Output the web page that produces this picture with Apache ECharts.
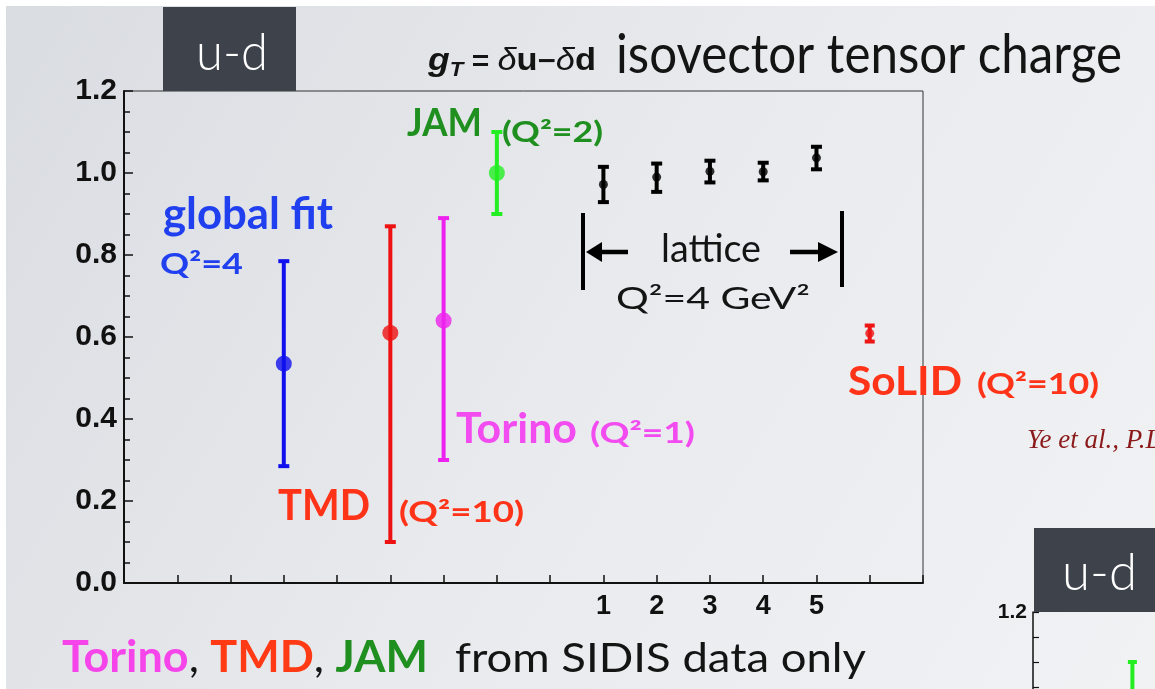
<!DOCTYPE html>
<html>
<head>
<meta charset="utf-8">
<script src="https://cdn.jsdelivr.net/npm/echarts@6/dist/echarts.min.js"></script>
<style>
  html, body { margin: 0; padding: 0; background: #ffffff; }
  #main { width: 1155px; height: 689px; }
</style>
</head>
<body>
<div id="main"></div>
<script>
// ---- data: isovector tensor charge g_T (u-d) ----
// extractions, placed at slots along the horizontal axis
const fitNames   = ['global fit', 'TMD', 'Torino', 'JAM'];
const fitSlots   = [3, 5, 6, 7];
const fitValues  = [0.535, 0.61, 0.64, 1.00];
const fitLow     = [0.285, 0.10, 0.30, 0.90];
const fitHigh    = [0.785, 0.87, 0.89, 1.10];
const fitColors  = ['#1010ee', '#ee1111', '#ee22ee', '#22ee22'];

// lattice results, Q^2 = 4 GeV^2
const latticeLabels = ['1', '2', '3', '4', '5'];
const latticeSlots  = [9, 10, 11, 12, 13];
const latticeValues = [0.972, 0.990, 1.004, 1.003, 1.037];
const latticeLow    = [0.929, 0.954, 0.977, 0.982, 1.009];
const latticeHigh   = [1.015, 1.023, 1.030, 1.025, 1.064];

// SoLID projection
const solidSlots  = [14];
const solidValues = [0.609];
const solidLow    = [0.589];
const solidHigh   = [0.628];

// ---- text helpers ----
const mctx = document.createElement('canvas').getContext('2d');
function midOffset(font) {
  mctx.font = font;
  mctx.textBaseline = 'alphabetic';
  const a = mctx.measureText('H').actualBoundingBoxAscent;
  mctx.textBaseline = 'middle';
  const m = mctx.measureText('H').actualBoundingBoxAscent;
  mctx.textBaseline = 'alphabetic';
  return a - m;
}
// a line of text runs placed at (left, baseline), stretched to a given width
function textLine(runs, left, baseline, width, z) {
  let total = 0;
  runs.forEach(r => { mctx.font = r.font; r.w = mctx.measureText(r.t).width; total += r.w; });
  let cx = 0;
  const children = runs.map(r => {
    const el = {
      type: 'text', x: cx, y: (r.dy || 0) - midOffset(r.font), z: z || 20,
      style: { text: r.t, font: r.font, fill: r.color,
               align: 'left', textAlign: 'left', verticalAlign: 'middle', textVerticalAlign: 'middle' }
    };
    cx += r.w;
    return el;
  });
  return { type: 'group', x: left, y: baseline, scaleX: width ? width / total : 1, children: children };
}
const LATO = 'Lato';
const f = (w, s, fam) => `${w} ${s}px ${fam || LATO}`;

// ---- error bar renderer ----
function errorBar(lineWidth, capWidth, color) {
  return function (params, api) {
    const x = api.value(0);
    const lo = api.coord([x, api.value(1)]);
    const hi = api.coord([x, api.value(2)]);
    const style = { stroke: color, lineWidth: lineWidth, fill: null };
    return {
      type: 'group',
      children: [
        { type: 'line', shape: { x1: lo[0], y1: lo[1], x2: hi[0], y2: hi[1] }, style: style },
        { type: 'line', shape: { x1: lo[0] - capWidth / 2, y1: lo[1], x2: lo[0] + capWidth / 2, y2: lo[1] }, style: style },
        { type: 'line', shape: { x1: hi[0] - capWidth / 2, y1: hi[1], x2: hi[0] + capWidth / 2, y2: hi[1] }, style: style }
      ]
    };
  };
}

const series = [];
fitNames.forEach((name, i) => {
  series.push({
    name: name + ' error', type: 'custom', xAxisIndex: 0, yAxisIndex: 0, z: 3,
    renderItem: errorBar(4, 11, fitColors[i]),
    data: [[fitSlots[i], fitLow[i], fitHigh[i]]]
  });
  series.push({
    name: name, type: 'scatter', xAxisIndex: 0, yAxisIndex: 0, z: 4,
    symbol: 'circle', symbolSize: 16, itemStyle: { color: fitColors[i] },
    data: [[fitSlots[i], fitValues[i]]]
  });
});
series.push({
  name: 'lattice error', type: 'custom', z: 3,
  renderItem: errorBar(4, 11, '#000000'),
  data: latticeSlots.map((s, i) => [s, latticeLow[i], latticeHigh[i]])
});
series.push({
  name: 'lattice', type: 'scatter', z: 4, symbolSize: 9, itemStyle: { color: '#000000' },
  data: latticeSlots.map((s, i) => [s, latticeValues[i]])
});
series.push({
  name: 'SoLID error', type: 'custom', z: 3,
  renderItem: errorBar(4, 10, '#ee1515'),
  data: solidSlots.map((s, i) => [s, solidLow[i], solidHigh[i]])
});
series.push({
  name: 'SoLID', type: 'scatter', z: 4, symbolSize: 9, itemStyle: { color: '#ee1515' },
  data: solidSlots.map((s, i) => [s, solidValues[i]])
});
// second u-d panel (partly visible): JAM
const jamIdx = fitNames.indexOf('JAM');
series.push({
  name: 'JAM panel 2 error', type: 'custom', xAxisIndex: 1, yAxisIndex: 1, z: 3,
  renderItem: errorBar(4, 9, fitColors[jamIdx]),
  data: [[fitSlots[jamIdx], fitLow[jamIdx], fitHigh[jamIdx]]]
});
series.push({
  name: 'JAM panel 2', type: 'scatter', xAxisIndex: 1, yAxisIndex: 1, z: 4,
  symbolSize: 16, itemStyle: { color: fitColors[jamIdx] },
  data: [[fitSlots[jamIdx], fitValues[jamIdx]]]
});

const BLUE_T = '#2040f0', RED_T = '#ff3318', MAG_T = '#f24cf0', GREEN_T = '#1f8f1f', INK = '#141414';
const LS = '"Liberation Sans"';

const graphics = [
  // white margin strips
  { type: 'rect', shape: { x: 0, y: 0, width: 1155, height: 6 }, style: { fill: '#ffffff' }, z: 1 },
  { type: 'rect', shape: { x: 0, y: 0, width: 6, height: 689 }, style: { fill: '#ffffff' }, z: 1 },
  // u-d tab
  { type: 'rect', shape: { x: 163, y: 7, width: 133, height: 84 }, style: { fill: '#3d424b' }, z: 15 },
  textLine([{ t: 'u-d', font: f(300, 52), color: '#ffffff' }], 196, 70, 72),
  // title
  textLine([
    { t: 'g', font: f('italic bold', 32, LS), color: INK },
    { t: 'T', font: f('italic bold', 20, LS), color: INK, dy: 6 },
    { t: ' = ', font: f('bold', 27, LS), color: INK },
    { t: 'δ', font: f('italic', 31, LS), color: INK },
    { t: 'u', font: f('bold', 31, LS), color: INK },
    { t: '−', font: f('bold', 28, LS), color: INK },
    { t: 'δ', font: f('italic', 31, LS), color: INK },
    { t: 'd', font: f('bold', 31, LS), color: INK }
  ], 428, 70, 168),
  textLine([{ t: 'isovector tensor charge', font: f(400, 55), color: INK }], 616, 73, 506),
  // labels in the plot
  textLine([{ t: 'global fit', font: f('bold', 43), color: BLUE_T }], 163, 229, 170),
  textLine([{ t: 'Q²=4', font: f('bold', 29), color: BLUE_T }], 160, 274, 83),
  textLine([{ t: 'JAM', font: f('bold', 39), color: GREEN_T }], 407, 136, 75),
  textLine([{ t: '(Q²=2)', font: f('bold', 28), color: GREEN_T }], 502, 142, 101),
  textLine([{ t: 'lattice', font: f(400, 39), color: INK }], 661, 262, 100),
  textLine([{ t: 'Q²=4 GeV²', font: f(400, 31), color: INK }], 616, 309, 194),
  textLine([{ t: 'Torino', font: f('bold', 42), color: MAG_T }], 456, 443, 121),
  textLine([{ t: '(Q²=1)', font: f('bold', 28), color: MAG_T }], 590, 443, 105),
  textLine([{ t: 'TMD', font: f('bold', 42), color: RED_T }], 278, 520, 92),
  textLine([{ t: '(Q²=10)', font: f('bold', 28), color: RED_T }], 399, 522, 125),
  textLine([{ t: 'SoLID', font: f('bold', 40), color: RED_T }], 848, 395, 114),
  textLine([{ t: '(Q²=10)', font: f('bold', 28), color: RED_T }], 977, 394, 122),
  textLine([{ t: 'Ye et al., P.L.B', font: f('italic', 27, '"Liberation Serif"'), color: '#8b1a1a' }], 1027, 448, 0),
  // lattice bracket with arrows
  { type: 'line', shape: { x1: 583, y1: 213, x2: 583, y2: 290 }, style: { stroke: '#000', lineWidth: 4 }, z: 10 },
  { type: 'line', shape: { x1: 842, y1: 211, x2: 842, y2: 287 }, style: { stroke: '#000', lineWidth: 4 }, z: 10 },
  { type: 'line', shape: { x1: 598, y1: 252, x2: 628, y2: 252 }, style: { stroke: '#000', lineWidth: 4.5 }, z: 10 },
  { type: 'polygon', shape: { points: [[586, 252], [602, 242], [602, 262]] }, style: { fill: '#000' }, z: 10 },
  { type: 'line', shape: { x1: 790, y1: 252, x2: 822, y2: 252 }, style: { stroke: '#000', lineWidth: 4.5 }, z: 10 },
  { type: 'polygon', shape: { points: [[838, 252], [818, 242], [818, 262]] }, style: { fill: '#000' }, z: 10 },
  // footnote line
  textLine([
    { t: 'Torino', font: f('bold', 43), color: '#f545ea' },
    { t: ', ', font: f(400, 43), color: INK },
    { t: 'TMD', font: f('bold', 43), color: '#ff3a14' },
    { t: ', ', font: f(400, 43), color: INK },
    { t: 'JAM', font: f('bold', 43), color: GREEN_T }
  ], 62, 672, 366),
  textLine([{ t: 'from SIDIS data only', font: f(400, 40), color: INK }], 455, 672, 411),
  // second panel tab
  { type: 'rect', shape: { x: 1034, y: 528, width: 200, height: 84 }, style: { fill: '#3d424b' }, z: 15 },
  textLine([{ t: 'u-d', font: f(300, 52), color: '#ffffff' }], 1062, 590, 75)
];

const tickFont = { fontFamily: LS, fontWeight: 'bold', color: '#111' };

const option = {
  animation: false,
  backgroundColor: new echarts.graphic.LinearGradient(0, 0, 1, 1, [
    { offset: 0, color: '#d9dce1' },
    { offset: 0.5, color: '#e8eaed' },
    { offset: 1, color: '#f0f2f4' }
  ]),
  grid: [
    { left: 124, right: 232, top: 91, bottom: 106, show: true, borderColor: '#333', borderWidth: 1,
      backgroundColor: 'transparent', outerBoundsMode: 'none', containLabel: false },
    { left: 1033, top: 612, width: 213, height: 600, show: false, outerBoundsMode: 'none', containLabel: false }
  ],
  xAxis: [
    {
      type: 'value', gridIndex: 0, min: 0, max: 15, interval: 1,
      axisLine: { show: true, lineStyle: { color: '#111', width: 2 } },
      axisTick: { show: true, inside: true, length: 8, lineStyle: { color: '#111', width: 1.5 } },
      splitLine: { show: false },
      axisLabel: Object.assign({
        fontSize: 27, margin: 10,
        formatter: v => { const i = latticeSlots.indexOf(v); return i >= 0 ? latticeLabels[i] : ''; }
      }, tickFont)
    },
    { type: 'value', gridIndex: 1, min: 0, max: 15, show: false }
  ],
  yAxis: [
    {
      type: 'value', gridIndex: 0, min: 0, max: 1.2, interval: 0.2,
      axisLine: { show: true, lineStyle: { color: '#111', width: 2 } },
      axisTick: { show: true, inside: true, length: 9, lineStyle: { color: '#111', width: 1.5 } },
      minorTick: { show: true, splitNumber: 4, length: 6, lineStyle: { color: '#111', width: 1.5 } },
      splitLine: { show: false }, minorSplitLine: { show: false },
      axisLabel: Object.assign({ fontSize: 30, margin: 7, formatter: v => v.toFixed(1) }, tickFont)
    },
    {
      type: 'value', gridIndex: 1, min: 0, max: 1.2, interval: 0.2,
      axisLine: { show: true, lineStyle: { color: '#111', width: 1.5 } },
      axisTick: { show: true, inside: true, length: 6, lineStyle: { color: '#111', width: 1.2 } },
      minorTick: { show: true, splitNumber: 4, length: 6, lineStyle: { color: '#111', width: 1.2 } },
      splitLine: { show: false },
      axisLabel: Object.assign({ fontSize: 21, margin: 6, formatter: v => v.toFixed(1) }, tickFont)
    }
  ],
  graphic: { elements: graphics },
  series: series
};

const chart = echarts.init(document.getElementById('main'), null, { renderer: 'canvas' });
chart.setOption(option);
</script>
</body>
</html>
